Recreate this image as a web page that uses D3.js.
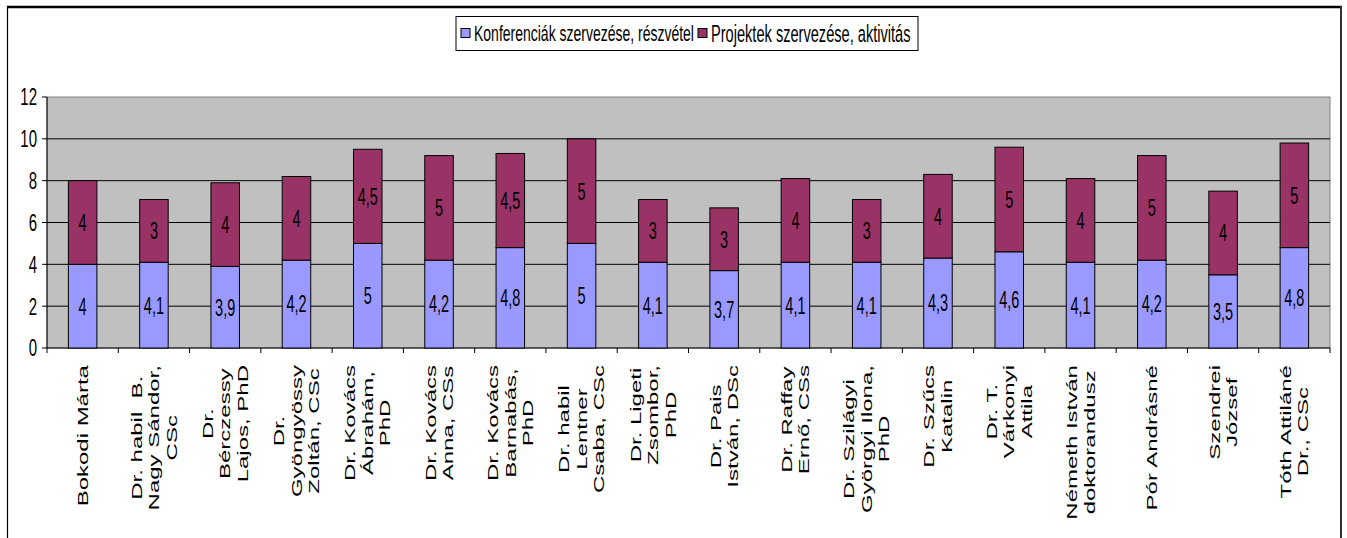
<!DOCTYPE html>
<html lang="en">
<head>
<meta charset="UTF-8">
<title>Konferenciák és projektek</title>
<script src="https://d3js.org/d3.v7.min.js"></script>
<style>
    body, html { margin: 0; padding: 0; background: #fff; }
    svg { display: block; }
    text { font-family: "Liberation Sans", Arial, sans-serif; fill: #000; }
</style>
</head>
<body>
<div id="chart"></div>
<script>
// categories (line breaks as in the original labels)
const names = [
    ["Bokodi Márta"],
    ["Dr. habil  B.", "Nagy Sándor,", "CSc"],
    ["Dr.", "Bérczessy", "Lajos, PhD"],
    ["Dr.", "Gyöngyössy", "Zoltán, CSc"],
    ["Dr. Kovács", "Ábrahám,", "PhD"],
    ["Dr. Kovács", "Anna, CSs"],
    ["Dr. Kovács", "Barnabás,", "PhD"],
    ["Dr. habil", "Lentner", "Csaba, CSc"],
    ["Dr. Ligeti", "Zsombor,", "PhD"],
    ["Dr. Pais", "István, DSc"],
    ["Dr. Raffay", "Ernő, CSs"],
    ["Dr. Szilágyi", "Györgyi Ilona,", "PhD"],
    ["Dr. Szűcs", "Katalin"],
    ["Dr. T.", "Várkonyi", "Attila"],
    ["Németh István", "doktorandusz"],
    ["Pór Andrásné"],
    ["Szendrei", "József"],
    ["Tóth Attiláné", "Dr., CSc"]
];
const konferencia = [4, 4.1, 3.9, 4.2, 5, 4.2, 4.8, 5, 4.1, 3.7, 4.1, 4.1, 4.3, 4.6, 4.1, 4.2, 3.5, 4.8];
const projekt = [4, 3, 4, 4, 4.5, 5, 4.5, 5, 3, 3, 4, 3, 4, 5, 4, 5, 4, 5];
const seriesNames = ["Konferenciák szervezése, részvétel", "Projektek szervezése, aktivitás"];
const yTicks = [0, 2, 4, 6, 8, 10, 12];

const width = 1347, height = 538;
const colors = ["#9999ff", "#993366"];
const stretch = 1.6; // the original picture is stretched vertically
const plot = { left: 47, right: 1330, top: 97, bottom: 348 };

const svg = d3.select("#chart").append("svg")
    .attr("width", width)
    .attr("height", height);

// outer frame
svg.append("line").attr("x1", 7).attr("x2", 1342).attr("y1", 7).attr("y2", 7)
    .attr("stroke", "#000").attr("stroke-width", 2.5);
svg.append("line").attr("x1", 7.5).attr("x2", 7.5).attr("y1", 6).attr("y2", height)
    .attr("stroke", "#000").attr("stroke-width", 1.2);
svg.append("line").attr("x1", 1341).attr("x2", 1341).attr("y1", 6).attr("y2", height)
    .attr("stroke", "#333").attr("stroke-width", 2);

const x = d3.scaleBand()
    .domain(d3.range(names.length))
    .range([plot.left, plot.right])
    .padding(0);

const y = d3.scaleLinear()
    .domain([0, 12])
    .range([plot.bottom, plot.top]);

// stretched horizontal text helper
function label(g, px, py, str, size, anchor) {
    return g.append("g")
        .attr("transform", `translate(${px},${py}) scale(1,${stretch})`)
        .append("text")
        .attr("text-anchor", anchor || "middle")
        .attr("dominant-baseline", "central")
        .style("font-size", size + "px")
        .text(str);
}

// plot area
svg.append("rect")
    .attr("x", plot.left).attr("y", plot.top)
    .attr("width", plot.right - plot.left).attr("height", plot.bottom - plot.top)
    .attr("fill", "#c0c0c0")
    .attr("stroke", "#808080");

// gridlines
svg.append("g").selectAll("line")
    .data(yTicks.filter(d => d > 0 && d < 12))
    .join("line")
    .attr("x1", plot.left).attr("x2", plot.right)
    .attr("y1", d => y(d)).attr("y2", d => y(d))
    .attr("stroke", "#000").attr("stroke-width", 1);

// y axis
const yAxis = svg.append("g");
yAxis.append("line").attr("x1", plot.left).attr("x2", plot.left)
    .attr("y1", plot.top).attr("y2", plot.bottom).attr("stroke", "#000");
yTicks.forEach(d => {
    yAxis.append("line").attr("x1", plot.left - 5).attr("x2", plot.left)
        .attr("y1", y(d)).attr("y2", y(d)).attr("stroke", "#000");
    label(yAxis, 37, y(d), d, 15, "end");
});

// x axis
const xAxis = svg.append("g");
xAxis.append("line").attr("x1", plot.left).attr("x2", plot.right)
    .attr("y1", plot.bottom).attr("y2", plot.bottom).attr("stroke", "#000");
d3.range(names.length + 1).forEach(i => {
    const xx = plot.left + i * x.bandwidth();
    xAxis.append("line").attr("x1", xx).attr("x2", xx)
        .attr("y1", plot.bottom).attr("y2", plot.bottom + 5).attr("stroke", "#000");
});

// stacked bars
const barW = x.bandwidth() * 0.4;
const stackData = names.map((n, i) => ({ i: i, k: konferencia[i], p: projekt[i] }));
const stack = d3.stack().keys(["k", "p"])(stackData);
const fmt = v => String(v).replace(".", ",");

stack.forEach((layer, si) => {
    const g = svg.append("g");
    g.selectAll("rect")
        .data(layer)
        .join("rect")
        .attr("x", d => x(d.data.i) + (x.bandwidth() - barW) / 2)
        .attr("y", d => y(d[1]))
        .attr("width", barW)
        .attr("height", d => y(d[0]) - y(d[1]))
        .attr("fill", colors[si])
        .attr("stroke", "#000")
        .attr("stroke-width", 1);
    layer.forEach(d => {
        label(g, x(d.data.i) + x.bandwidth() / 2, (y(d[0]) + y(d[1])) / 2,
            fmt(d.data[layer.key]), 14.5);
    });
});

// category labels, rotated
const lineGap = 17.5;
names.forEach((lines, i) => {
    const g = svg.append("g");
    const texts = lines.map((s, li) => g.append("text")
        .attr("text-anchor", "middle")
        .attr("dominant-baseline", "central")
        .attr("x", 0)
        .attr("y", (li - (lines.length - 1) / 2) * lineGap)
        .style("font-size", "15px")
        .style("white-space", "pre")
        .text(s));
    const maxLen = d3.max(texts, t => t.node().getComputedTextLength());
    const cx = x(i) + x.bandwidth() / 2;
    const cy = 365 + maxLen * stretch / 2;
    g.attr("transform", `translate(${cx},${cy}) scale(1,${stretch}) rotate(-90)`);
});

// legend
const legend = svg.append("g");
legend.append("rect")
    .attr("x", 456).attr("y", 16.5).attr("width", 462).attr("height", 34)
    .attr("fill", "#fff").attr("stroke", "#000");
const legendX = [461, 698];
const legendSize = [14, 14.6];
seriesNames.forEach((s, i) => {
    legend.append("rect")
        .attr("x", legendX[i]).attr("y", 28.5).attr("width", 9).attr("height", 9)
        .attr("fill", colors[i]).attr("stroke", "#000");
    label(legend, legendX[i] + 13, 33.5, s, legendSize[i], "start");
});
</script>
</body>
</html>
